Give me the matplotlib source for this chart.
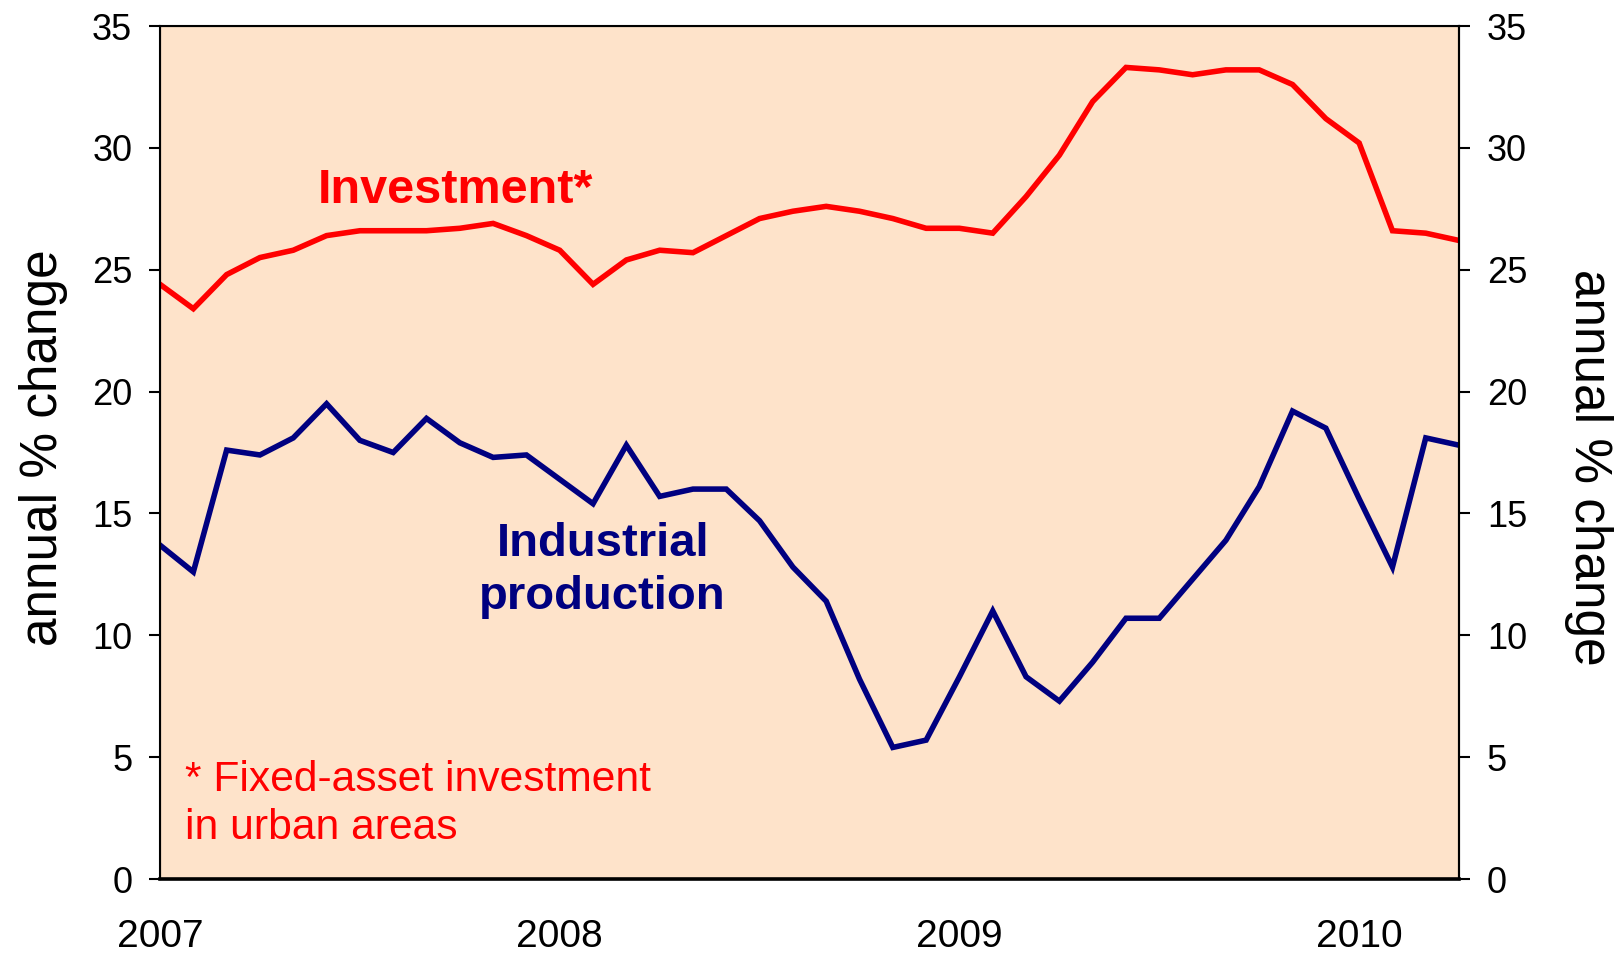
import numpy as np
import pandas as pd
import matplotlib

matplotlib.use("Agg")
import matplotlib.pyplot as plt

# monthly observations, Jan 2007 - Apr 2010
months = pd.period_range("2007-01", "2010-04", freq="M")

investment = [
    24.4, 23.4, 24.8, 25.5, 25.8, 26.4, 26.6, 26.6, 26.6, 26.7, 26.9, 26.4,
    25.8, 24.4, 25.4, 25.8, 25.7, 26.4, 27.1, 27.4, 27.6, 27.4, 27.1, 26.7,
    26.7, 26.5, 28.0, 29.7, 31.9, 33.3, 33.2, 33.0, 33.2, 33.2, 32.6, 31.2,
    30.2, 26.6, 26.5, 26.2,
]
industrial = [
    13.7, 12.6, 17.6, 17.4, 18.1, 19.5, 18.0, 17.5, 18.9, 17.9, 17.3, 17.4,
    16.4, 15.4, 17.8, 15.7, 16.0, 16.0, 14.7, 12.8, 11.4, 8.2, 5.4, 5.7,
    8.3, 11.0, 8.3, 7.3, 8.9, 10.7, 10.7, 12.3, 13.9, 16.1, 19.2, 18.5,
    15.6, 12.8, 18.1, 17.8,
]

year_labels = ["2007", "2008", "2009", "2010"]
y_ticks = [0, 5, 10, 15, 20, 25, 30, 35]

plt.rcParams["font.family"] = ["Liberation Sans", "DejaVu Sans"]

fig = plt.figure(figsize=(16.23, 9.56), dpi=100)
ax = fig.add_axes([0.0986, 0.0805, 0.8004, 0.8923])
ax.set_facecolor("#FEE3CA")

x = np.arange(len(months))
ax.plot(x, investment, color="#FF0000", lw=4.0, solid_joinstyle="miter")
ax.plot(x, industrial, color="#000080", lw=4.0, solid_joinstyle="miter")

ax.set_xlim(0, len(months) - 1)
ax.set_ylim(0, 35)
ax.set_yticks(y_ticks)

year_pos = [i for i, m in enumerate(months) if m.month == 1]
ax.set_xticks(year_pos)
ax.set_xticklabels(year_labels)
ax.tick_params(axis="x", length=0, pad=29, labelsize=28)
ax.tick_params(axis="y", direction="out", length=8, width=1.5, pad=12, labelsize=26)

for side in ["left", "right", "top"]:
    ax.spines[side].set_linewidth(1.5)
ax.spines["bottom"].set_linewidth(2.6)

ax2 = ax.twinx()
ax2.set_ylim(0, 35)
ax2.set_yticks(y_ticks)
ax2.tick_params(axis="y", direction="out", length=8, width=1.5, pad=12, labelsize=26)
ax2.spines["right"].set_linewidth(1.5)

fig.text(0.027, 0.532, "annual % change", rotation=90, ha="center", va="center", fontsize=37)
fig.text(0.979, 0.511, "annual % change", rotation=270, ha="center", va="center", fontsize=37)

ax.text(8.88, 27.74, "Investment*", color="#FF0000", fontsize=35, fontweight="bold",
        ha="center", va="baseline")
# multiline text: baseline alignment uses the last line
ax.text(13.29, 11.08, "Industrial\nproduction", color="#000080", fontsize=34,
        fontweight="bold", ha="center", va="baseline", linespacing=1.25)
ax.text(0.75, 1.64, "* Fixed-asset investment\nin urban areas", color="#FF0000",
        fontsize=30.7, ha="left", va="baseline", linespacing=1.25)

fig.savefig("out.png", dpi=100)
